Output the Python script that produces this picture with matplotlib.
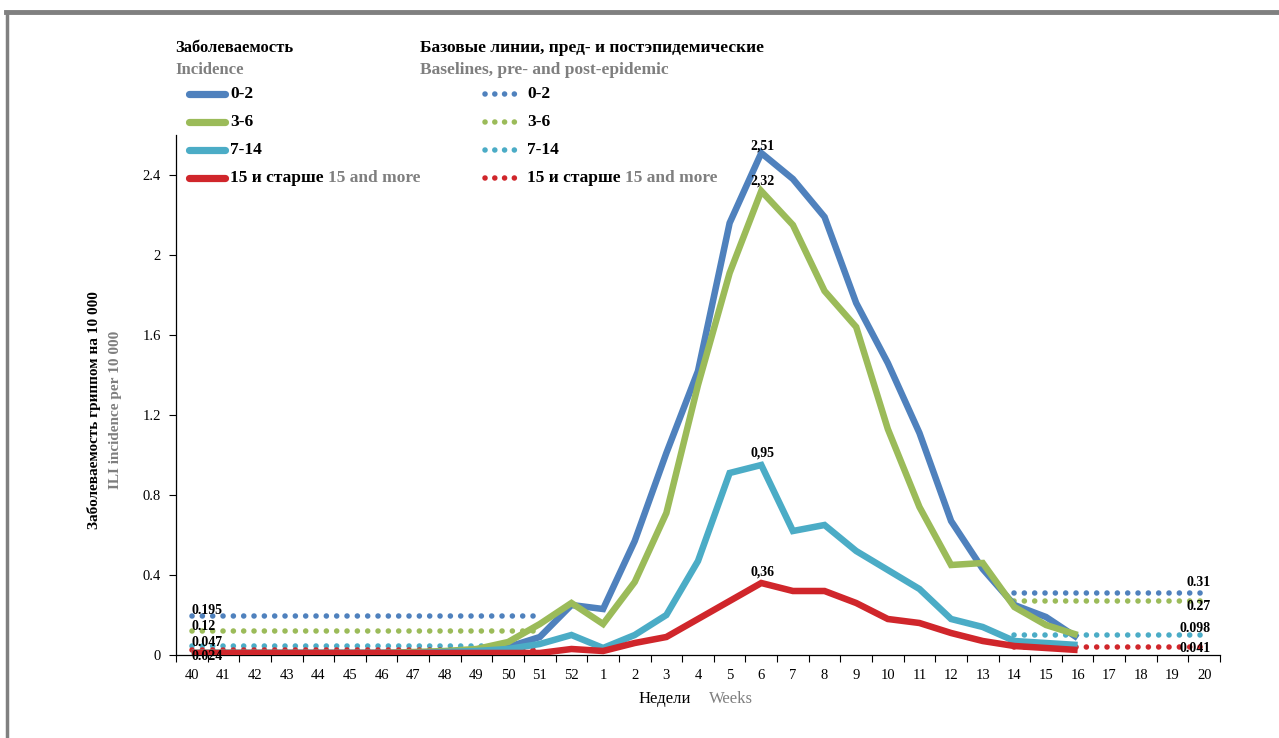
import numpy as np
import matplotlib
matplotlib.use("Agg")
import matplotlib.pyplot as plt
from matplotlib.lines import Line2D

plt.rcParams["font.family"] = ["Liberation Serif", "DejaVu Serif"]

weeks = [40, 41, 42, 43, 44, 45, 46, 47, 48, 49, 50, 51, 52,
         1, 2, 3, 4, 5, 6, 7, 8, 9, 10, 11, 12, 13, 14, 15, 16, 17, 18, 19, 20]

# недельная заболеваемость (недели 40 ... 16)
inc_0_2 = [0.01, 0.01, 0.01, 0.01, 0.01, 0.01, 0.01, 0.01, 0.01, 0.015, 0.04, 0.09, 0.25,
           0.23, 0.57, 1.01, 1.42, 2.16, 2.51, 2.38, 2.19, 1.76, 1.46, 1.11, 0.67, 0.43,
           0.25, 0.19, 0.085]
inc_3_6 = [0.01, 0.01, 0.01, 0.01, 0.01, 0.01, 0.01, 0.015, 0.02, 0.03, 0.065, 0.155, 0.26,
           0.155, 0.365, 0.71, 1.35, 1.91, 2.32, 2.15, 1.82, 1.64, 1.13, 0.74, 0.45, 0.46,
           0.24, 0.15, 0.10]
inc_7_14 = [0.01, 0.01, 0.01, 0.01, 0.01, 0.01, 0.01, 0.01, 0.015, 0.02, 0.03, 0.055, 0.10,
            0.035, 0.10, 0.20, 0.47, 0.91, 0.95, 0.62, 0.65, 0.52, 0.425, 0.33, 0.18, 0.14,
            0.07, 0.06, 0.05]
inc_15 = [0.01, 0.01, 0.01, 0.01, 0.01, 0.01, 0.01, 0.01, 0.01, 0.01, 0.01, 0.01, 0.03,
          0.02, 0.06, 0.09, 0.18, 0.27, 0.36, 0.32, 0.32, 0.26, 0.18, 0.16, 0.11, 0.07,
          0.045, 0.035, 0.025]

# базовые линии: предэпидемические (недели 40-51) и постэпидемические (14-20)
pre_base = [0.195, 0.12, 0.047, 0.024]
post_base = [0.31, 0.27, 0.098, 0.041]
pre_weeks = (0, 11)
post_weeks = (26, 32)

groups = ["0-2", "3-6", "7-14", "15 и старше"]
colors = ["#4F81BD", "#9BBB59", "#4BACC6", "#D0262B"]
series = [inc_0_2, inc_3_6, inc_7_14, inc_15]
peak_labels = ["2,51", "2,32", "0,95", "0,36"]
GREY = "#7F7F7F"

fig = plt.figure(figsize=(12.79, 7.38), dpi=100)
ax = fig.add_axes([176 / 1279, 1 - 655 / 738, (1220 - 176) / 1279, 520 / 738])

x = np.arange(len(weeks))
dot = (0, (0.01, 1.85))
for vals, col in zip(series, colors):
    ax.plot(x[:len(vals)], vals, color=col, lw=4.7, solid_joinstyle="miter",
            solid_capstyle="butt", zorder=3)

for pre, post, col in zip(pre_base, post_base, colors):
    xs = np.arange(pre_weeks[0], pre_weeks[1] + 1)
    ax.plot(xs, [pre] * len(xs), color=col, lw=4.0, ls=dot,
            dash_capstyle="round", zorder=2)
    xs = np.arange(post_weeks[0], post_weeks[1] + 1)
    ax.plot(xs, [post] * len(xs), color=col, lw=4.0, ls=dot,
            dash_capstyle="round", zorder=2)

# подписи пиков
ipk = weeks.index(6)
for vals, lab, dy in zip(series, peak_labels, [0.5, 2.5, 4, 3]):
    ax.annotate(lab, (ipk, vals[ipk]), xytext=(1, dy), textcoords="offset points",
                ha="center", va="bottom", fontsize=10, fontweight="bold", zorder=5)

# подписи базовых линий
for v, yy in zip(["0.195", "0.12", "0.047", "0.024"], [0.225, 0.14, 0.065, -0.005]):
    ax.text(0.0, yy, v, ha="left", va="center", fontsize=10, fontweight="bold", zorder=5)
for v, yy in zip(["0.31", "0.27", "0.098", "0.041"], [0.36, 0.24, 0.135, 0.035]):
    ax.text(32.2, yy, v, ha="right", va="center", fontsize=10, fontweight="bold", zorder=5)

ax.set_xlim(-0.38, 32.5)
ax.set_ylim(0, 2.6)
ax.set_yticks([0, 0.4, 0.8, 1.2, 1.6, 2.0, 2.4])
ax.set_yticklabels(["0", "0.4", "0.8", "1.2", "1.6", "2", "2.4"], fontsize=10.5)
ax.set_xticks(x)
ax.set_xticklabels([str(w) for w in weeks], fontsize=10.5)
ax.set_xticks(np.arange(len(weeks) + 1) - 0.5, minor=True)
ax.tick_params(axis="x", which="major", length=0, pad=10)
ax.tick_params(axis="x", which="minor", length=5, width=0.8, direction="out")
ax.tick_params(axis="y", length=5, width=0.8, direction="out", pad=6)
for s in ["top", "right"]:
    ax.spines[s].set_visible(False)
for s in ["left", "bottom"]:
    ax.spines[s].set_linewidth(0.9)

# подписи осей
fig.text(94 / 1279, 1 - 410 / 738, "Заболеваемость гриппом на 10 000", rotation=90,
         ha="center", va="center", fontsize=11, fontweight="bold")
fig.text(115 / 1279, 1 - 410 / 738, "ILI incidence per 10 000", rotation=90,
         ha="center", va="center", fontsize=11, fontweight="bold", color=GREY)
fig.text(639 / 1279, 1 - 699 / 738, "Недели", ha="left", va="center", fontsize=12)
fig.text(709 / 1279, 1 - 699 / 738, "Weeks", ha="left", va="center", fontsize=12, color=GREY)

# легенда
def ft(px, py, s, **kw):
    return fig.text(px / 1279, 1 - py / 738, s, va="center", **kw)

ft(175, 48, "Заболеваемость", fontsize=12, fontweight="bold")
ft(175, 70, "Incidence", fontsize=12, fontweight="bold", color=GREY)
ft(420, 48, "Базовые линии, пред- и постэпидемические", fontsize=12.5, fontweight="bold")
ft(420, 70, "Baselines, pre- and post-epidemic", fontsize=12.5, fontweight="bold", color=GREY)
for k, (g, col) in enumerate(zip(groups, colors)):
    py = 94 + k * 28
    fy = 1 - py / 738
    fig.add_artist(Line2D([189 / 1279, 225 / 1279], [fy, fy], color=col, lw=5.2,
                          solid_capstyle="round"))
    fig.add_artist(Line2D([485 / 1279, 522 / 1279], [fy, fy], color=col, lw=4.0,
                          ls=(0, (0.01, 1.75)), dash_capstyle="round"))
    for lx in (230, 527):
        if g == "15 и старше":
            t = ft(lx, py, "15 и старше ", fontsize=12.5, fontweight="bold")
            fig.canvas.draw()
            bb = t.get_window_extent()
            fig.text(bb.x1 / fig.bbox.width, fy, "15 and more", va="center",
                     fontsize=12.5, fontweight="bold", color=GREY)
        else:
            ft(lx, py, g, fontsize=12.5, fontweight="bold")

# серая рамка
fig.add_artist(Line2D([6 / 1279, 1], [1 - 12 / 738, 1 - 12 / 738], color="#808080", lw=3.5))
fig.add_artist(Line2D([6.5 / 1279, 6.5 / 1279], [1 - 12 / 738, 0], color="#808080", lw=2.5))

fig.savefig("out.png", dpi=100)
